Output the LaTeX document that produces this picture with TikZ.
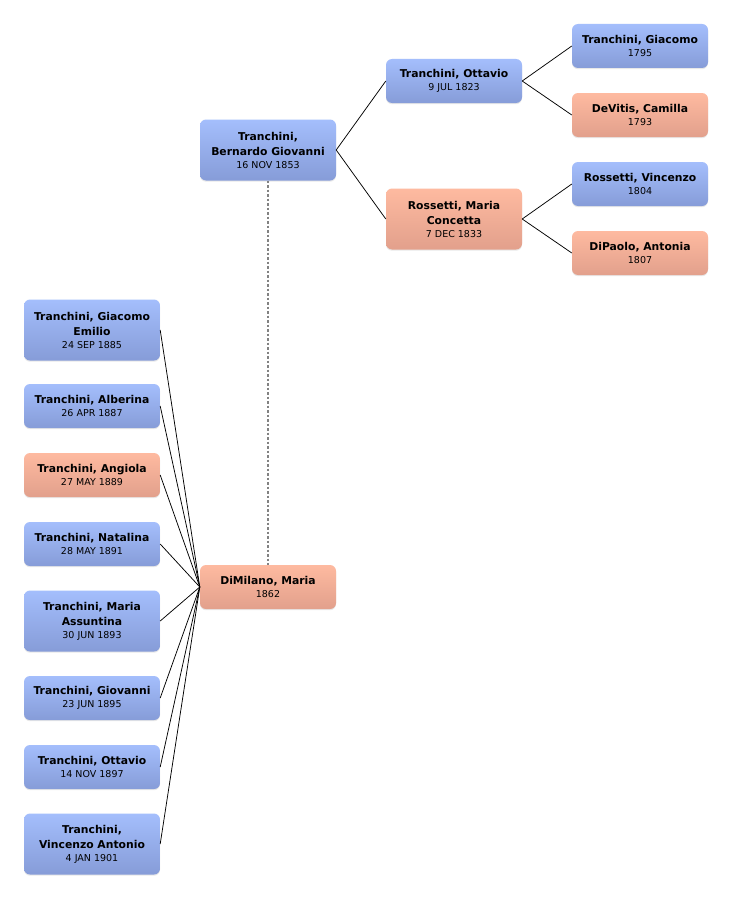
\documentclass[tikz,border=0pt]{standalone}
\usepackage{fontspec}
\setmainfont{DejaVu Sans}
\usetikzlibrary{shadows}
\definecolor{bluetop}{RGB}{164,190,252}
\definecolor{bluebot}{RGB}{134,156,216}
\definecolor{pinktop}{RGB}{254,186,160}
\definecolor{pinkbot}{RGB}{226,160,140}
\definecolor{dashgray}{RGB}{130,130,130}
\newcommand{\nm}{\bfseries\fontsize{10.8}{15.5}\selectfont}
\newcommand{\dt}{\mdseries\fontsize{9.5}{12}\selectfont}
\tikzset{
  person/.style={rounded corners=6pt, minimum width=136pt, inner sep=2pt,
    align=center, font=\nm, execute at begin node={\rule{0pt}{13pt}},
    drop shadow={opacity=0.18, shadow xshift=0pt, shadow yshift=-1.2pt}},
  man/.style={person, top color=bluetop, bottom color=bluebot},
  woman/.style={person, top color=pinktop, bottom color=pinkbot},
  two/.style={minimum height=44pt},
  three/.style={minimum height=61pt},
  link/.style={draw=black, line width=0.75pt},
  spouse/.style={draw=dashgray, line width=1.4pt, dash pattern=on 2.5pt off 2pt}
}
\begin{document}
\begin{tikzpicture}[x=1pt,y=-1pt]
\useasboundingbox[fill=white] (0,0) rectangle (732,899);
% ancestors
\node[man,three] (bern) at (268,150) {Tranchini,\\Bernardo Giovanni\\[-3pt]{\dt 16 NOV 1853}};
\node[man,two] (ott) at (454,81) {Tranchini, Ottavio\\[-3pt]{\dt 9 JUL 1823}};
\node[woman,three] (rmc) at (454,219) {Rossetti, Maria\\Concetta\\[-3pt]{\dt 7 DEC 1833}};
\node[man,two] (gia) at (640,46) {Tranchini, Giacomo\\[-3pt]{\dt 1795}};
\node[woman,two] (dev) at (640,115) {DeVitis, Camilla\\[-3pt]{\dt 1793}};
\node[man,two] (rvi) at (640,184) {Rossetti, Vincenzo\\[-3pt]{\dt 1804}};
\node[woman,two] (dip) at (640,253) {DiPaolo, Antonia\\[-3pt]{\dt 1807}};
% spouse
\node[woman,two] (dim) at (268,587) {DiMilano, Maria\\[-3pt]{\dt 1862}};
% children
\node[man,three] (c1) at (92,330) {Tranchini, Giacomo\\Emilio\\[-3pt]{\dt 24 SEP 1885}};
\node[man,two] (c2) at (92,406) {Tranchini, Alberina\\[-3pt]{\dt 26 APR 1887}};
\node[woman,two] (c3) at (92,475) {Tranchini, Angiola\\[-3pt]{\dt 27 MAY 1889}};
\node[man,two] (c4) at (92,544) {Tranchini, Natalina\\[-3pt]{\dt 28 MAY 1891}};
\node[man,three] (c5) at (92,621) {Tranchini, Maria\\Assuntina\\[-3pt]{\dt 30 JUN 1893}};
\node[man,two] (c6) at (92,698) {Tranchini, Giovanni\\[-3pt]{\dt 23 JUN 1895}};
\node[man,two] (c7) at (92,767) {Tranchini, Ottavio\\[-3pt]{\dt 14 NOV 1897}};
\node[man,three] (c8) at (92,844) {Tranchini,\\Vincenzo Antonio\\[-3pt]{\dt 4 JAN 1901}};
% connectors
\draw[link] (bern.east) -- (ott.west);
\draw[link] (bern.east) -- (rmc.west);
\draw[link] (ott.east) -- (gia.west);
\draw[link] (ott.east) -- (dev.west);
\draw[link] (rmc.east) -- (rvi.west);
\draw[link] (rmc.east) -- (dip.west);
\draw[spouse] (bern.south) -- (dim.north);
\foreach \c in {c1,c2,c3,c4,c5,c6,c7,c8}
  \draw[link] (\c.east) -- (dim.west);
\end{tikzpicture}
\end{document}
